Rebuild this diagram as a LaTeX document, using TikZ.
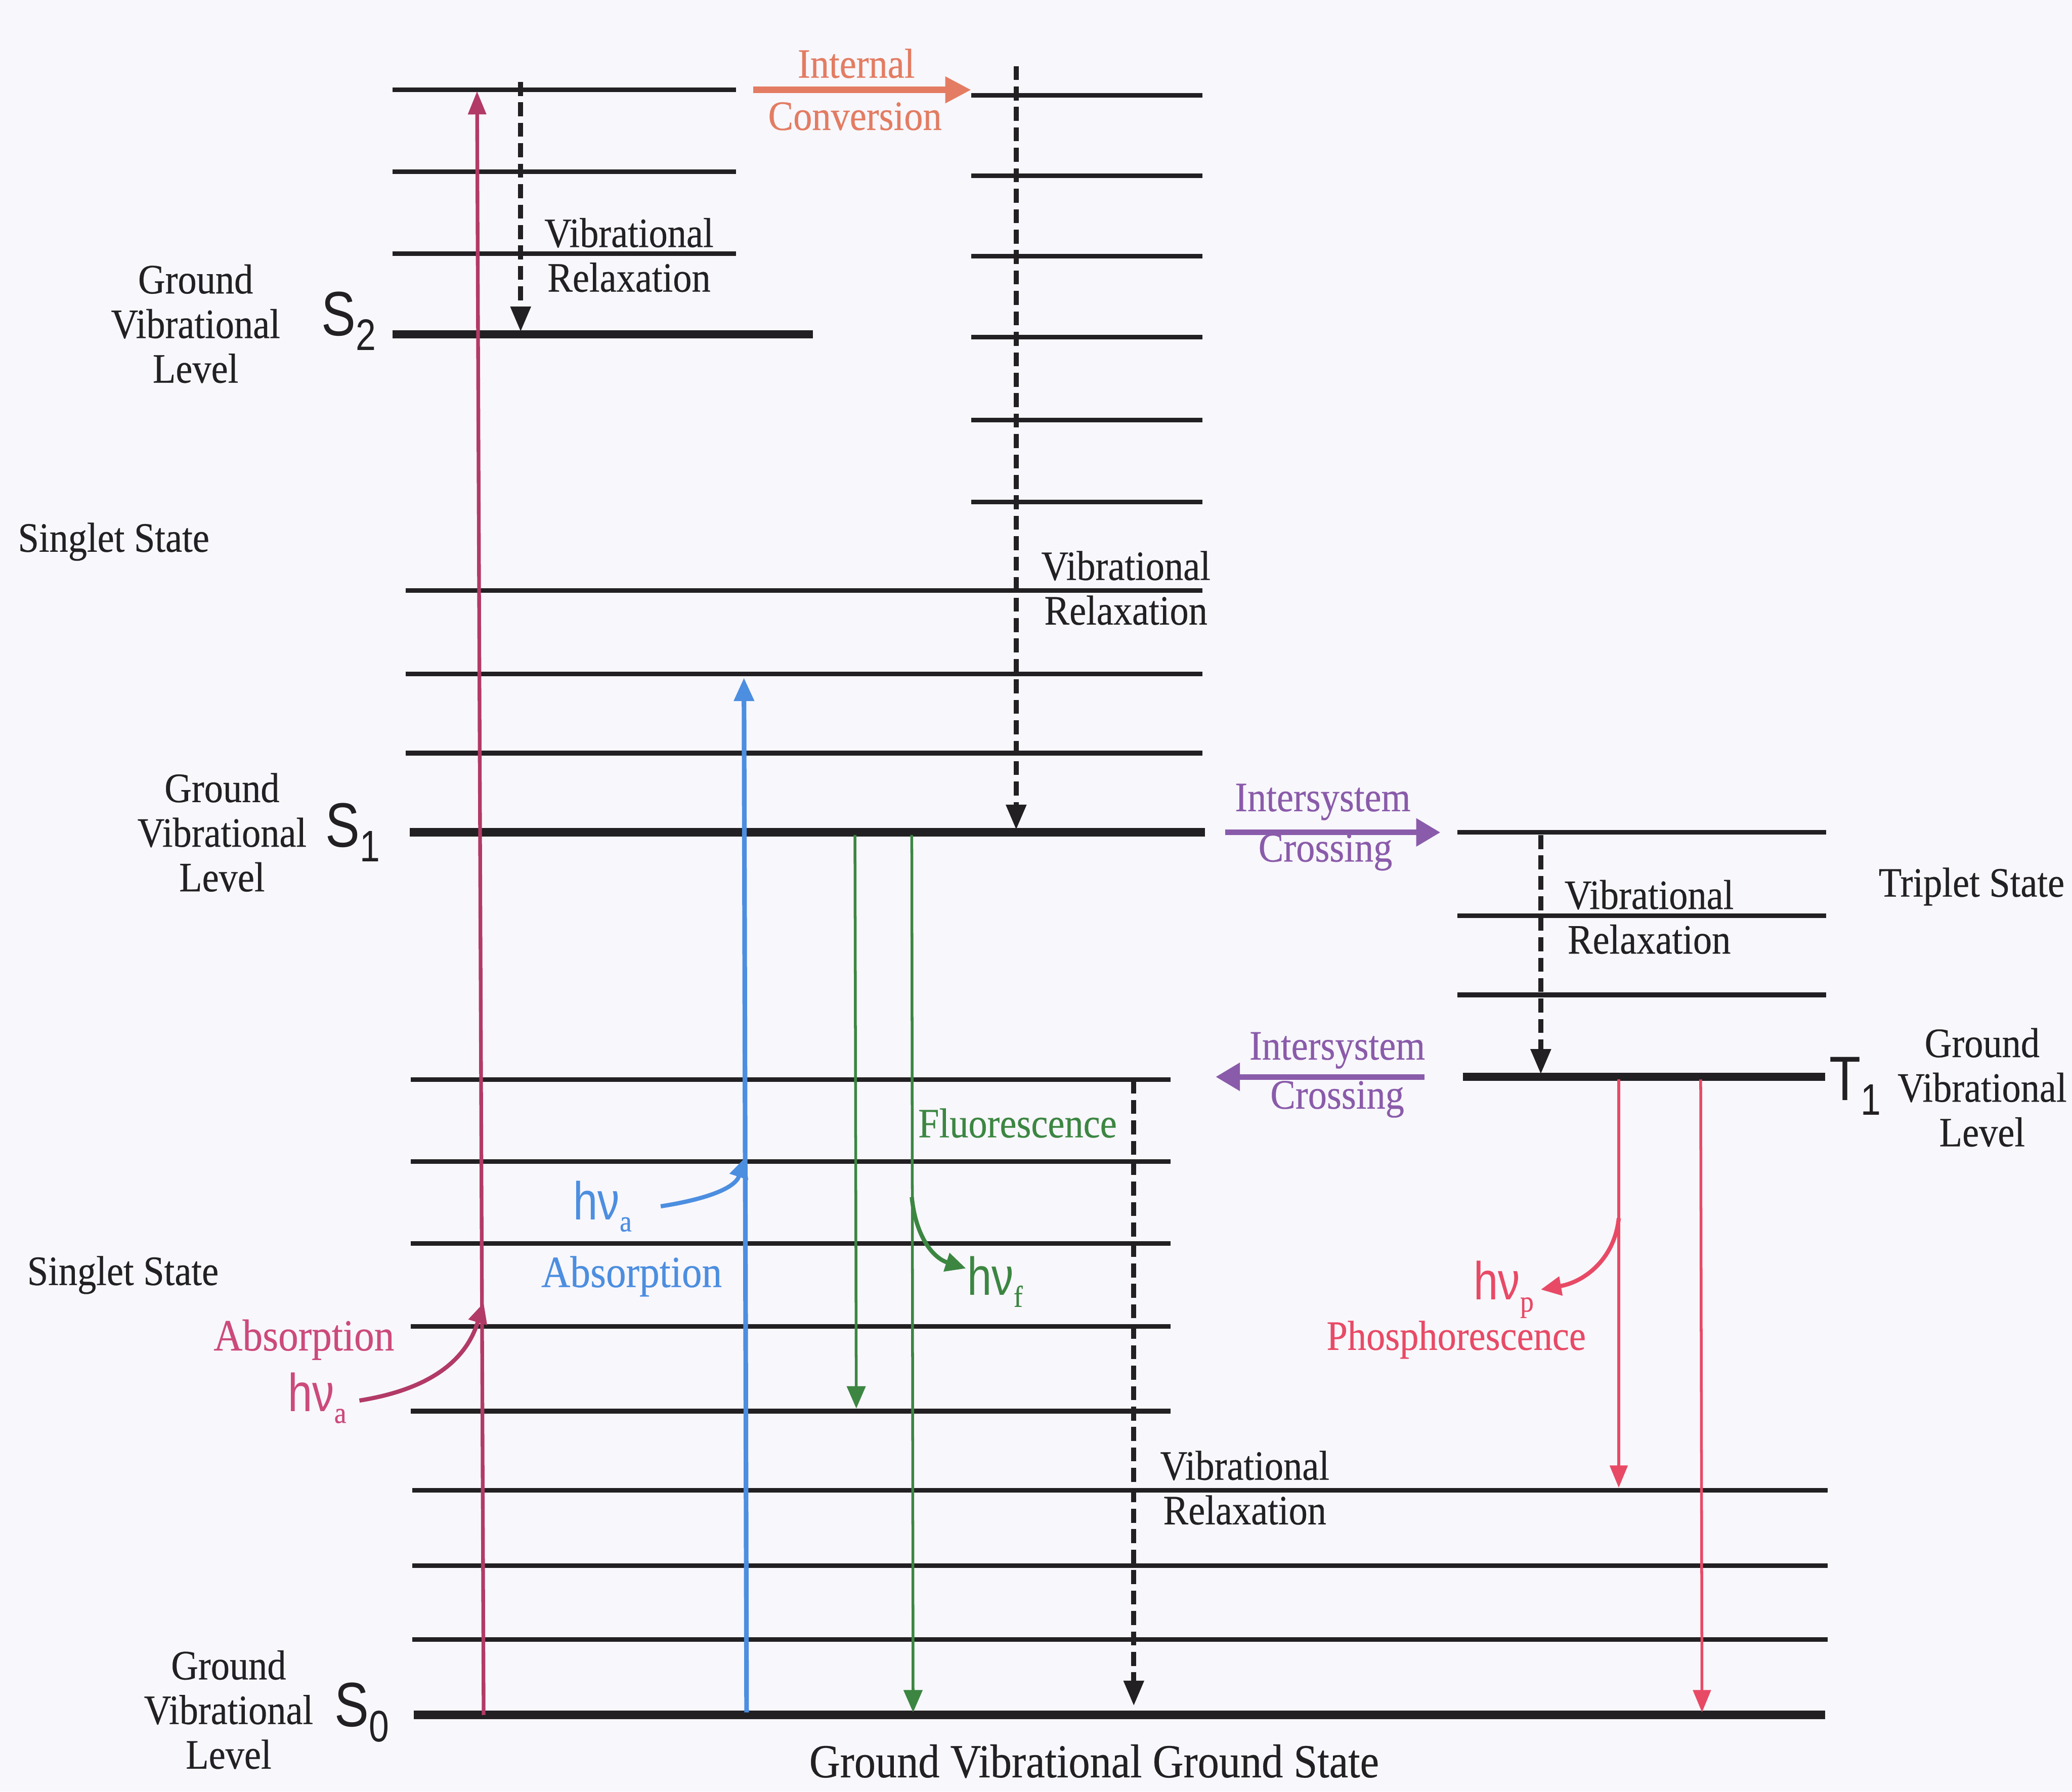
\documentclass[tikz,border=0pt]{standalone}
\usepackage{fontspec}
\setmainfont{Liberation Serif}[FakeStretch=0.9,FakeBold=0.3]
\newfontfamily\sfn{Liberation Sans}[FakeStretch=0.82]
\usetikzlibrary{arrows.meta}
\definecolor{bgc}{HTML}{F8F7FC}
\definecolor{ink}{HTML}{222022}
\definecolor{absline}{HTML}{B23A66}
\definecolor{abstext}{HTML}{CC4A7C}
\definecolor{icor}{HTML}{E37C62}
\definecolor{bluea}{HTML}{4C8EE0}
\definecolor{greenf}{HTML}{3C8642}
\definecolor{purp}{HTML}{8A5BAA}
\definecolor{redp}{HTML}{E84A66}
\newcommand\hnu[1]{{\sfn\fontsize{11.5}{11.5}\selectfont hν}\raisebox{-0.55ex}{\fontsize{6.5}{6.5}\selectfont #1}}
\newcommand\slab[2]{{\sfn\fontsize{13.5}{13.5}\selectfont #1}\raisebox{-0.7ex}{\sfn\fontsize{9.5}{9.5}\selectfont #2}}
\begin{document}
\begin{tikzpicture}[x=0.01cm,y=-0.01cm,
  lvl/.style={line width=1pt,draw=ink,line cap=butt},
  glvl/.style={line width=1.8pt,draw=ink},
  vrel/.style={draw=ink,line width=1.05pt,dash pattern=on 3pt off 1.4pt,-{Triangle[length=5.4pt,width=4.2pt]}},
  lab/.style={inner sep=0pt,font=\fontsize{9}{9.6}\selectfont,align=center,text=ink},
  clab/.style={inner sep=0pt,font=\fontsize{9}{9.6}\selectfont,align=center},
  bigarr/.style={line width=1.45pt,-{Triangle[length=5.6pt,width=5.4pt]}},
  isc/.style={draw=purp,line width=1.2pt,-{Triangle[length=5.2pt,width=5.8pt]}},
  photon/.style={line width=0.9pt,-{Triangle[length=4.4pt,width=4pt]}}
]
\path[fill=bgc] (0,0) rectangle (1568,1356);
\useasboundingbox (0,0) rectangle (1568,1356);

% ---------- energy levels ----------
\foreach \y in {68,130,192} \draw[lvl] (297,\y) -- (557,\y);
\draw[glvl] (297,253) -- (615,253);
\foreach \y in {72,133,194,255,318,380} \draw[lvl] (735,\y) -- (910,\y);
\foreach \y in {447,510,570} \draw[lvl] (307,\y) -- (910,\y);
\draw[glvl] (310,630) -- (912,630);
\foreach \y in {817,879,941,1004,1068} \draw[lvl] (311,\y) -- (886,\y);
\foreach \y in {1128,1185,1241} \draw[lvl] (312,\y) -- (1383,\y);
\draw[glvl] (313,1298) -- (1381,1298);
\foreach \y in {630,693,753} \draw[lvl] (1103,\y) -- (1382,\y);
\draw[glvl] (1107,815) -- (1381,815);

% ---------- named end points ----------
\coordinate (vrAtop) at (394,62);   \coordinate (vrAbot) at (394,251);
\coordinate (vrBtop) at (769,50);   \coordinate (vrBbot) at (769,628);
\coordinate (vrCtop) at (1166,632); \coordinate (vrCbot) at (1166,813);
\coordinate (vrDtop) at (858,817);  \coordinate (vrDbot) at (858,1291);
\coordinate (icA) at (570,68);  \coordinate (icB) at (735,68);
\coordinate (iscA) at (927,630); \coordinate (iscB) at (1090,630);
\coordinate (iscC) at (1078,815); \coordinate (iscD) at (920,815);
\coordinate (absBot) at (366,1298); \coordinate (absTop) at (361,69);
\coordinate (bluBot) at (565,1296); \coordinate (bluTop) at (563,513);
\coordinate (grAtop) at (647,632); \coordinate (grAbot) at (648,1066);
\coordinate (grBtop) at (690,632); \coordinate (grBbot) at (691,1296);
\coordinate (rdAtop) at (1225,817); \coordinate (rdAbot) at (1225,1126);
\coordinate (rdBtop) at (1287,817); \coordinate (rdBbot) at (1288,1296);
\coordinate (phA0) at (272,1060); \coordinate (phA1) at (366,986);
\coordinate (phB0) at (500,913);  \coordinate (phB1) at (564,876);
\coordinate (phG0) at (690,906);  \coordinate (phG1) at (731,960);
\coordinate (phR0) at (1225,922); \coordinate (phR1) at (1166,976);

% ---------- vibrational relaxation ----------
\draw[vrel] (vrAtop) -- (vrAbot);
\draw[vrel] (vrBtop) -- (vrBbot);
\draw[vrel] (vrCtop) -- (vrCbot);
\draw[vrel] (vrDtop) -- (vrDbot);

% ---------- transitions ----------
\draw[bigarr,draw=icor,fill=icor] (icA) -- (icB);
\draw[isc,fill=purp] (iscA) -- (iscB);
\draw[isc,fill=purp] (iscC) -- (iscD);
\draw[absline,line width=0.8pt,-{Triangle[length=5pt,width=3.8pt]}] (absBot) -- (absTop);
\draw[bluea,line width=1pt,-{Triangle[length=5pt,width=4.2pt]}] (bluBot) -- (bluTop);
\draw[greenf,line width=0.6pt,-{Triangle[length=4.8pt,width=4pt]}] (grAtop) -- (grAbot);
\draw[greenf,line width=0.6pt,-{Triangle[length=4.8pt,width=4pt]}] (grBtop) -- (grBbot);
\draw[redp,line width=0.6pt,-{Triangle[length=4.8pt,width=3.8pt]}] (rdAtop) -- (rdAbot);
\draw[redp,line width=0.6pt,-{Triangle[length=4.8pt,width=3.8pt]}] (rdBtop) -- (rdBbot);

% photon curls
\draw[photon,absline] (phA0) .. controls (322,1052) and (352,1032) .. (phA1);
\draw[photon,bluea] (phB0) .. controls (532,908) and (556,900) .. (phB1);
\draw[photon,greenf] (phG0) .. controls (693,936) and (706,952) .. (phG1);
\draw[photon,redp] (phR0) .. controls (1222,952) and (1200,970) .. (phR1);

% ---------- black labels ----------
\node[lab] (gvl2) at (148,245) {Ground\\Vibrational\\Level};
\node[lab] (gvl1) at (168,630) {Ground\\Vibrational\\Level};
\node[lab] (gvl0) at (173,1294) {Ground\\Vibrational\\Level};
\node[lab] (gvlT) at (1500,823) {Ground\\Vibrational\\Level};
\node[inner sep=0pt,text=ink] (s2) at (264,243) {\slab{S}{2}};
\node[inner sep=0pt,text=ink] (s1) at (267,630) {\slab{S}{1}};
\node[inner sep=0pt,text=ink] (s0) at (274,1296) {\slab{S}{0}};
\node[inner sep=0pt,text=ink] (t1) at (1404,822) {\slab{T}{1}};
\node[lab] (ssA) at (86,410) {Singlet State};
\node[lab] (ssB) at (93,965) {Singlet State};
\node[lab] (ts) at (1492,671) {Triplet State};
\node[lab] (vrlA) at (476,193) {Vibrational\\Relaxation};
\node[lab] (vrlB) at (852,445) {Vibrational\\Relaxation};
\node[lab] (vrlC) at (1248,694) {Vibrational\\Relaxation};
\node[lab] (vrlD) at (942,1126) {Vibrational\\Relaxation};
\node[lab,font=\fontsize{10.2}{11}\selectfont] (gvgs) at (828,1333) {Ground Vibrational Ground State};

% ---------- coloured labels ----------
\node[clab,text=icor] (icl1) at (648,48) {Internal};
\node[clab,text=icor] (icl2) at (647,88) {Conversion};
\node[clab,text=purp] (isl1) at (1001,607) {Intersystem};
\node[clab,text=purp] (isl2) at (1003,645) {Crossing};
\node[clab,text=purp] (isl3) at (1012,795) {Intersystem};
\node[clab,text=purp] (isl4) at (1012,832) {Crossing};
\node[clab,text=greenf] (fl) at (770,850) {Fluorescence};
\node[clab,text=abstext,font=\fontsize{9.6}{10}\selectfont] (absA) at (230,1014) {Absorption};
\node[clab,text=bluea,font=\fontsize{9.6}{10}\selectfont] (absB) at (478,966) {Absorption};
\node[clab,text=redp] (ph) at (1102,1014) {Phosphorescence};
\node[inner sep=0pt,text=abstext] (hA) at (240,1058) {\hnu{a}};
\node[inner sep=0pt,text=bluea] (hB) at (456,913) {\hnu{a}};
\node[inner sep=0pt,text=greenf] (hF) at (753,970) {\hnu{f}};
\node[inner sep=0pt,text=redp] (hP) at (1138,976) {\hnu{p}};
\end{tikzpicture}
\end{document}
